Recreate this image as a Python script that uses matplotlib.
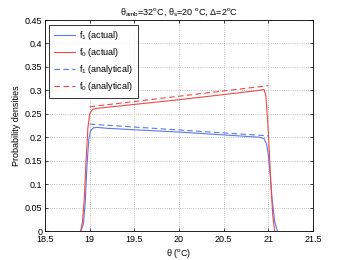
import matplotlib
matplotlib.use("Agg")
import matplotlib.pyplot as plt

# actual densities
x_f1_act = [18.90, 18.93, 18.95, 18.97, 18.99, 19.01, 19.04, 19.08, 19.2, 19.5, 20.0, 20.5, 20.9, 20.95, 20.98, 21.0, 21.02, 21.04, 21.07, 21.10]
y_f1_act = [0.0, 0.015, 0.06, 0.14, 0.195, 0.214, 0.220, 0.221, 0.219, 0.216, 0.211, 0.205, 0.200, 0.197, 0.185, 0.16, 0.12, 0.07, 0.02, 0.0]
x_f0_act = [18.90, 18.92, 18.94, 18.96, 18.98, 19.00, 19.03, 19.06, 19.2, 19.5, 20.0, 20.5, 20.9, 20.95, 20.97, 20.99, 21.01, 21.03, 21.05, 21.07]
y_f0_act = [0.0, 0.02, 0.07, 0.15, 0.22, 0.25, 0.259, 0.261, 0.264, 0.270, 0.280, 0.291, 0.300, 0.302, 0.29, 0.24, 0.17, 0.09, 0.03, 0.0]
# analytical densities
x_ana = [19.0, 21.0]
y_f1_ana = [0.228, 0.203]
y_f0_ana = [0.265, 0.310]

blue = '#5a78f0'
red = '#f04848'

plt.rcParams['font.family'] = ['Liberation Sans', 'DejaVu Sans']
plt.rcParams['mathtext.fontset'] = 'custom'
plt.rcParams['mathtext.rm'] = 'Liberation Sans'
plt.rcParams['mathtext.it'] = 'Liberation Sans'
plt.rcParams['mathtext.sf'] = 'Liberation Sans'
fig = plt.figure(figsize=(3.46, 2.60), dpi=100)
ax = fig.add_axes([0.130, 0.1115, 0.775, 0.8115])

ax.plot(x_f1_act, y_f1_act, color=blue, lw=0.8, label=r'f$_1$ (actual)')
ax.plot(x_f0_act, y_f0_act, color=red, lw=0.8, label=r'f$_0$ (actual)')
ax.plot(x_ana, y_f1_ana, color=blue, lw=0.8, ls=(0, (5, 3)), label=r'f$_1$ (analytical)')
ax.plot(x_ana, y_f0_ana, color=red, lw=0.8, ls=(0, (5, 3)), label=r'f$_0$ (analytical)')

ax.set_xlim(18.5, 21.5)
ax.set_ylim(0, 0.45)
ax.set_xticks([18.5, 19, 19.5, 20, 20.5, 21, 21.5])
ax.set_xticklabels(['18.5', '19', '19.5', '20', '20.5', '21', '21.5'])
ax.set_yticks([0, 0.05, 0.1, 0.15, 0.2, 0.25, 0.3, 0.35, 0.4, 0.45])
ax.set_yticklabels(['0', '0.05', '0.1', '0.15', '0.2', '0.25', '0.3', '0.35', '0.4', '0.45'])
ax.tick_params(direction='in', length=2.5, width=0.5, labelsize=6.5, top=True, right=True)
ax.tick_params(axis='x', pad=3)
ax.tick_params(axis='y', pad=2)
ax.grid(True, ls=':', color='#aaaaaa', lw=0.6)
for s in ax.spines.values():
    s.set_linewidth(0.6)

ax.set_xlabel('θ ($^o$C)', fontsize=6.5, labelpad=2)
ax.set_ylabel('Probability densities', fontsize=6.5, labelpad=3)
ax.set_title(r'θ$_{amb}$=32$^o$C, θ$_s$=20 $^o$C, Δ=2$^o$C', fontsize=6.5, pad=4)

leg = ax.legend(loc='upper left', fontsize=6.5, frameon=True, fancybox=False, edgecolor='black',
                handlelength=2.3, handletextpad=0.5, borderpad=0.5, labelspacing=0.45, borderaxespad=0.5)
leg.get_frame().set_linewidth(0.7)

fig.savefig('out.png', dpi=100)
